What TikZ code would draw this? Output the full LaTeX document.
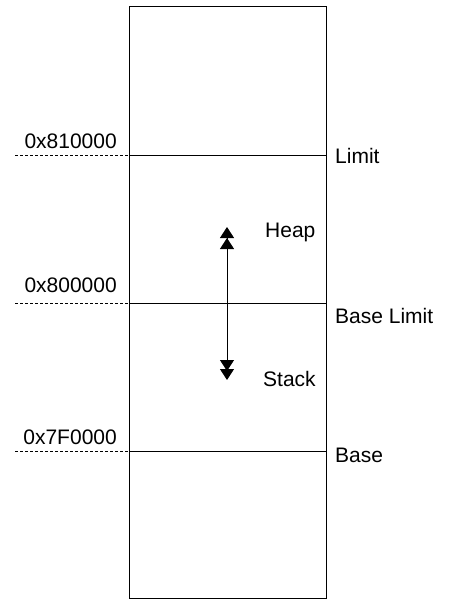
\documentclass[tikz,border=0pt]{standalone}
\usepackage{fontspec}
\setmainfont{Liberation Sans}
\usetikzlibrary{arrows.meta}
\begin{document}
\begin{tikzpicture}[x=1pt,y=-1pt,
  lbl/.style={inner sep=0pt,font=\fontsize{21}{25}\selectfont},
  boundary/.style={line width=1pt,draw=black},
  guide/.style={line width=0.8pt,dash pattern=on 3pt off 2pt},
  dbl/.style={line width=1pt,{Triangle[length=11pt,width=14pt,sep=-2pt]Triangle[length=11pt,width=14pt]}-{Triangle[length=11pt,width=14pt,sep=-2pt]Triangle[length=11pt,width=14pt]}}]
\useasboundingbox (0,0) rectangle (450,599);
% memory block
\draw[boundary] (129,7) rectangle (326,598);
% levels
\coordinate (lL) at (129,155); \coordinate (lR) at (326,155); \coordinate (lD) at (15,155);
\coordinate (bL) at (129,303); \coordinate (bR) at (326,303); \coordinate (bD) at (15,303);
\coordinate (sL) at (129,451); \coordinate (sR) at (326,451); \coordinate (sD) at (15,451);
\draw[boundary] (lL) -- (lR);
\draw[boundary] (bL) -- (bR);
\draw[boundary] (sL) -- (sR);
\draw[guide] (lD) -- (lL);
\draw[guide] (bD) -- (bL);
\draw[guide] (sD) -- (sL);
% labels left
\node[lbl,anchor=base east] (a1) at (117,148) {0x810000};
\node[lbl,anchor=base east] (a2) at (117,292) {0x800000};
\node[lbl,anchor=base east] (a3) at (117,444) {0x7F0000};
% labels right
\node[lbl,anchor=base west] (r1) at (335,163) {Limit};
\node[lbl,anchor=base west] (r2) at (335,323) {Base Limit};
\node[lbl,anchor=base west] (r3) at (335,462) {Base};
% heap / stack
\node[lbl,anchor=base west] (heap) at (265,237) {Heap};
\node[lbl,anchor=base west] (stack) at (263,386) {Stack};
\coordinate (at) at (227,229);
\coordinate (ab) at (227,380);
\draw[dbl] (at) -- (ab);
\end{tikzpicture}
\end{document}
